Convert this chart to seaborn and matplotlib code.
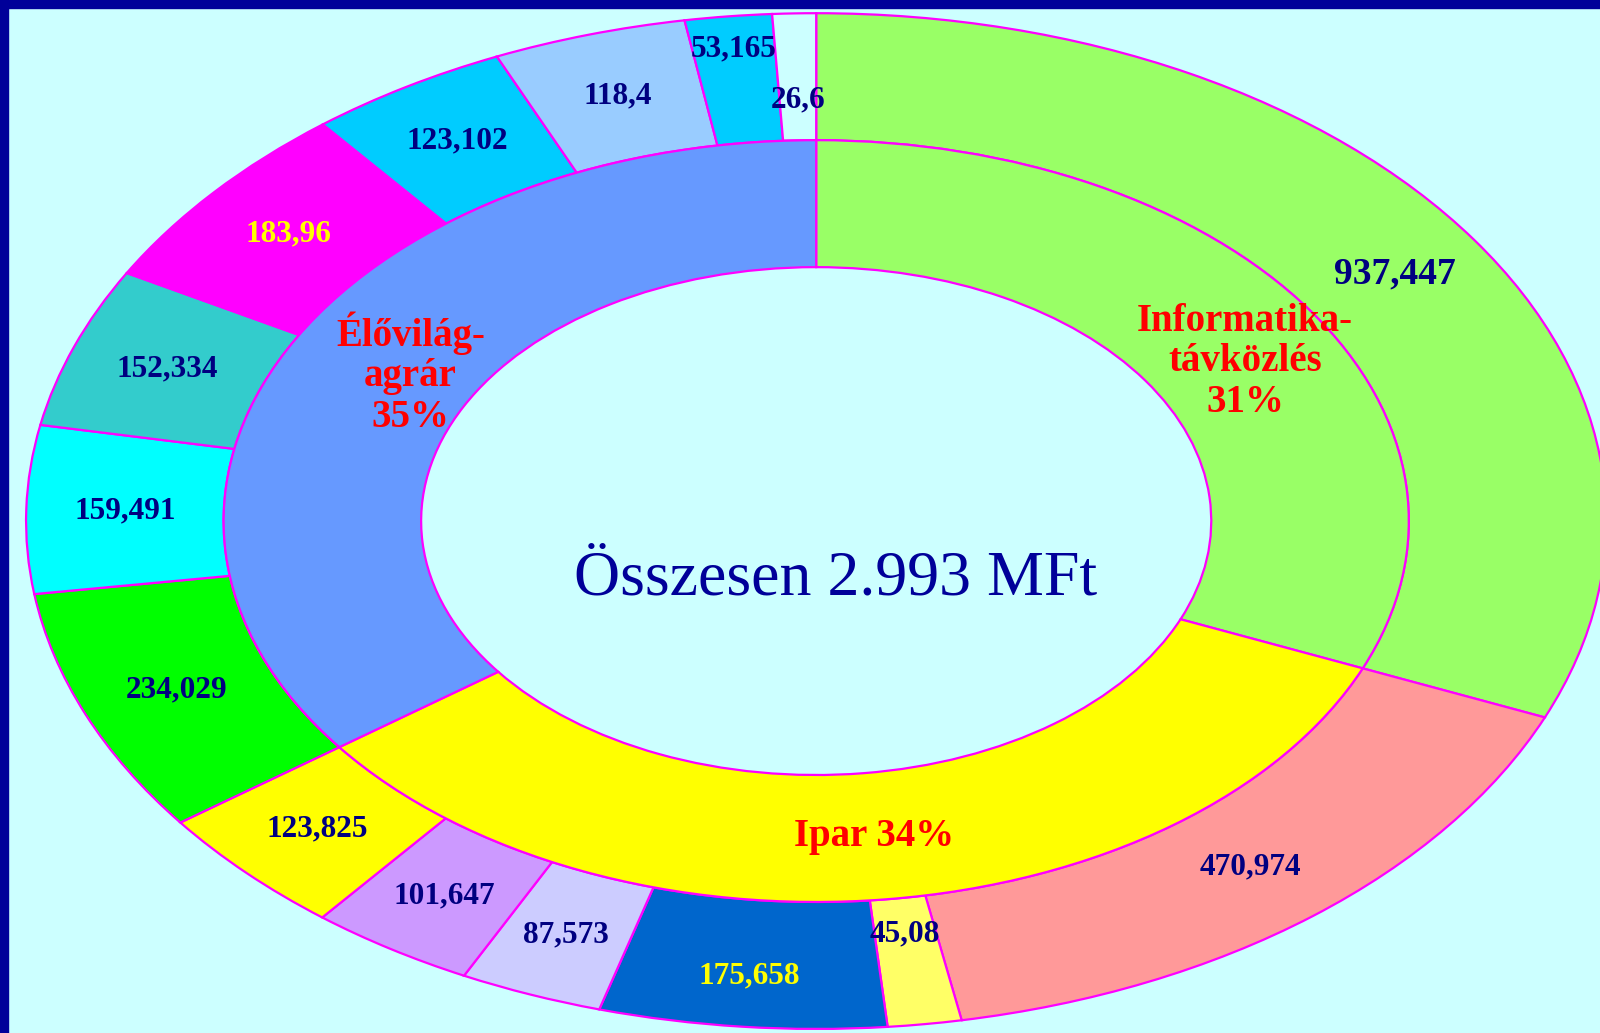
import matplotlib
matplotlib.use("Agg")
import numpy as np
import matplotlib.pyplot as plt
import seaborn as sns
from matplotlib.patches import Rectangle

sns.set_theme(style="white")
plt.rcParams['font.family'] = ['Liberation Serif', 'DejaVu Serif']

# Külső gyűrű: támogatások (MFt), az óramutató járása szerint felülről
outer_labels = ['937,447', '470,974', '45,08', '175,658', '87,573', '101,647',
                '123,825', '234,029', '159,491', '152,334', '183,96', '123,102',
                '118,4', '53,165', '26,6']
outer_values = [937.447, 470.974, 45.08, 175.658, 87.573, 101.647,
                123.825, 234.029, 159.491, 152.334, 183.96, 123.102,
                118.4, 53.165, 26.6]
outer_group = [0, 1, 1, 1, 1, 1, 1, 2, 2, 2, 2, 2, 2, 2, 2]

# Belső gyűrű: szakterületek
inner_names = ['Informatika-\ntávközlés', 'Ipar', 'Élővilág-\nagrár']
inner_values = [sum(v for v, g in zip(outer_values, outer_group) if g == i)
                for i in range(len(inner_names))]
total_text = 'Összesen 2.993 MFt'

outer_colors = ['#99FF66', '#FF9999', '#FFFF66', '#0066CC', '#CCCCFF', '#CC99FF',
                '#FFFF00', '#00FF00', '#00FFFF', '#33CCCC', '#FF00FF', '#00CCFF',
                '#99CCFF', '#00CCFF', '#CCFFFF']
outer_text_colors = ['#000080'] * len(outer_labels)
outer_text_colors[3] = '#FFFF00'
outer_text_colors[10] = '#FFFF00'
inner_colors = ['#99FF66', '#FFFF00', '#6699FF']

bg = '#CCFFFF'
edge = '#FF00FF'

fig = plt.figure(figsize=(16, 10.33), dpi=100, facecolor=bg)
ax = fig.add_axes([0, 0, 1, 1])
ax.set_facecolor(bg)

wp = dict(width=0.25, edgecolor=edge, linewidth=1.6)
outer_wedges, _ = ax.pie(outer_values, radius=1.0, colors=outer_colors,
                         startangle=90, counterclock=False, wedgeprops=wp)
inner_wedges, _ = ax.pie(inner_values, radius=0.75, colors=inner_colors,
                         startangle=90, counterclock=False, wedgeprops=wp)

# címkék a szeletek közepére
label_r = {0: 0.88, 2: 0.82, 3: 0.9, 13: 0.935, 14: 0.83}
for i, w in enumerate(outer_wedges):
    ang = np.deg2rad((w.theta1 + w.theta2) / 2)
    r = label_r.get(i, 0.875)
    size = 27 if i == 0 else 22.5
    ax.text(r * np.cos(ang), r * np.sin(ang), outer_labels[i],
            ha='center', va='center', fontsize=size, fontweight='bold',
            color=outer_text_colors[i])

total = sum(inner_values)
inner_r = [0.627, 0.626, 0.59]
inner_ang = [30, -83.3, 150.5]
for i, w in enumerate(inner_wedges):
    ang = np.deg2rad(inner_ang[i])
    pct = round(100 * inner_values[i] / total)
    sep = ' ' if i == 1 else '\n'
    ax.text(inner_r[i] * np.cos(ang), inner_r[i] * np.sin(ang),
            f'{inner_names[i]}{sep}{pct}%', ha='center', va='center',
            fontsize=28, fontweight='bold', color='#FF0000', linespacing=1.12)

ax.text(0.024, -0.116, total_text, ha='center', va='center',
        fontsize=46, color='#000099')

ax.set_aspect('auto')
ax.set_xlim(-1.033, 0.992)
ax.set_ylim(-1.008, 1.026)
ax.axis('off')

# sötétkék keret bal és felső szélén
fig.patches.append(Rectangle((0, 0), 8 / 1600, 1, transform=fig.transFigure,
                             color='#000099', zorder=10))
fig.patches.append(Rectangle((0, 1 - 8 / 1033), 1, 8 / 1033, transform=fig.transFigure,
                             color='#000099', zorder=10))

fig.savefig('out.png', dpi=100, facecolor=bg)
